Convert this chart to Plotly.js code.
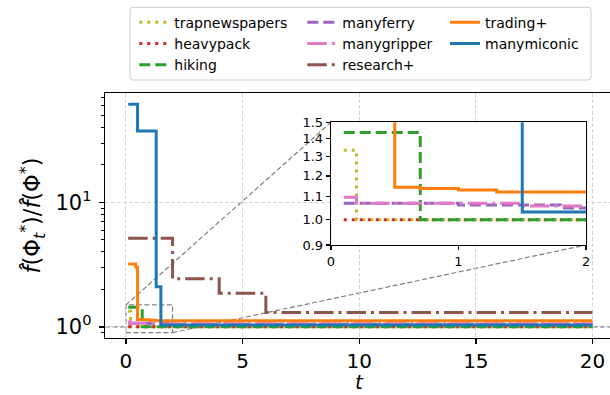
<!DOCTYPE html>
<html><head><meta charset="utf-8">
<script src="https://cdn.plot.ly/plotly-3.0.1.min.js"></script>
<style>html,body{margin:0;padding:0;background:#fff}</style>
</head><body><div id="chart" style="width:610px;height:395px"></div>
<script>
// ---- data ----
const names = ['trapnewspapers','heavypack','hiking','manyferry','manygripper','research+','trading+','manymiconic'];
const tTrapnewspapers = [0.1, 0.2, 20];
const vTrapnewspapers = [1.335, 1.0, 1.0];
const tHeavypack = [0.1, 20];
const vHeavypack = [1.0, 1.0];
const tHiking = [0.1, 0.7, 20];
const vHiking = [1.438, 1.0, 1.0];
const tManyferry = [0.1, 1.0, 1.8, 20];
const vManyferry = [1.071, 1.063, 1.05, 1.05];
const tManygripper = [0.1, 0.2, 1.5, 20];
const vManygripper = [1.098, 1.071, 1.059, 1.059];
const tResearch = [0.1, 2, 4, 6, 20];
const vResearch = [5.14, 2.43, 1.86, 1.303, 1.303];
const tTrading = [0.1, 0.42, 0.5, 0.7, 1.0, 1.3, 20];
const vTrading = [3.2, 3.02, 1.145, 1.139, 1.131, 1.122, 1.122];
const tManymiconic = [0.1, 0.5, 1.3, 1.5, 20];
const vManymiconic = [61.6, 37.5, 2.1, 1.033, 1.033];

const xTickVals = [0, 5, 10, 15, 20];
const yTickVals = [1, 10];
const yTickText = ['10<sup>0</sup>', '10<sup>1</sup>'];
const yMinorVals = [0.9, 2, 3, 4, 5, 6, 7, 8, 9, 20, 30, 40, 50, 60, 70];
const insetXTicks = [0, 1, 2];
const insetYTicks = [0.9, 1.0, 1.1, 1.2, 1.3, 1.4, 1.5];
const insetYText = ['0.9', '1.0', '1.1', '1.2', '1.3', '1.4', '1.5'];
const zoomBox = {t0: 0, t1: 2, v0: 0.9, v1: 1.5};
const xTitle = '<i>t</i>';
const yTitle = '<i>f̂</i>(Φ<sub><i>t</i></sub><sup>*</sup>)/<i>f̂</i>(Φ<sup>*</sup>)';

// ---- styles ----
const FONT = 'DejaVu Sans';
const LW = 3;
const DOT = '3px,5px', DASH = '11px,5px', DASHDOT = '19.5px,5px,3px,5px';
const series = [
  {name: names[0], t: tTrapnewspapers, v: vTrapnewspapers, color: '#bcbd22', dash: DOT, legend: 'legend'},
  {name: names[1], t: tHeavypack, v: vHeavypack, color: '#d62728', dash: DOT, legend: 'legend'},
  {name: names[2], t: tHiking, v: vHiking, color: '#2ca02c', dash: DASH, legend: 'legend'},
  {name: names[3], t: tManyferry, v: vManyferry, color: '#9467bd', dash: DASH, legend: 'legend2'},
  {name: names[4], t: tManygripper, v: vManygripper, color: '#e377c2', dash: DASHDOT, legend: 'legend2'},
  {name: names[5], t: tResearch, v: vResearch, color: '#8c564b', dash: DASHDOT, legend: 'legend2'},
  {name: names[6], t: tTrading, v: vTrading, color: '#ff7f0e', dash: 'solid', legend: 'legend3'},
  {name: names[7], t: tManymiconic, v: vManymiconic, color: '#1f77b4', dash: 'solid', legend: 'legend3'}
];

const traces = [];
series.forEach(s => {
  traces.push({x: s.t, y: s.v, type: 'scatter', mode: 'lines', name: s.name, legend: s.legend,
    line: {color: s.color, width: LW, dash: s.dash, shape: 'hv'}, xaxis: 'x', yaxis: 'y', hoverinfo: 'skip'});
});
series.forEach(s => {
  traces.push({x: s.t, y: s.v, type: 'scatter', mode: 'lines', name: s.name, showlegend: false,
    line: {color: s.color, width: LW, dash: s.dash, shape: 'hv'}, xaxis: 'x2', yaxis: 'y2', hoverinfo: 'skip'});
});

const xr = [-0.895, 20.75];
const yr = [-0.0895, 1.879];
const inX = [0.4475, 0.9525];
const inY = [0.3796, 0.8804];
const px = t => (t - xr[0]) / (xr[1] - xr[0]);
const py = v => (Math.log10(v) - yr[0]) / (yr[1] - yr[0]);

const GRAY = '#808080';
const shapes = [
  // axhline at 1
  {type: 'line', xref: 'paper', yref: 'y', x0: 0, x1: 1, y0: 1, y1: 1, layer: 'below',
   line: {color: GRAY, width: 1.5, dash: '5px,2.5px'}},
  // zoom indicator box
  {type: 'rect', xref: 'paper', yref: 'paper', x0: px(zoomBox.t0), x1: px(zoomBox.t1), y0: py(zoomBox.v0), y1: py(zoomBox.v1),
   layer: 'below', line: {color: GRAY, width: 1.2, dash: '5px,2.5px'}},
  // connectors
  {type: 'line', xref: 'paper', yref: 'paper', x0: px(zoomBox.t0), y0: py(zoomBox.v1), x1: inX[0], y1: inY[1],
   layer: 'below', line: {color: GRAY, width: 1.2, dash: '5px,2.5px'}},
  {type: 'line', xref: 'paper', yref: 'paper', x0: px(zoomBox.t1), y0: py(zoomBox.v0), x1: inX[1], y1: inY[0],
   layer: 'below', line: {color: GRAY, width: 1.2, dash: '5px,2.5px'}}
];
// legend frame (rounded)
(function(){
  const x0 = (130 - 105) / 505, x1 = (591 - 105) / 505;
  const yT = 1 + (93 - 7.3) / 245, yB = 1 + (93 - 80) / 245;
  const rx = 3 / 505, ry = 3 / 245;
  const p = `M${x0+rx},${yT} L${x1-rx},${yT} Q${x1},${yT} ${x1},${yT-ry} L${x1},${yB+ry} Q${x1},${yB} ${x1-rx},${yB} ` +
            `L${x0+rx},${yB} Q${x0},${yB} ${x0},${yB+ry} L${x0},${yT-ry} Q${x0},${yT} ${x0+rx},${yT} Z`;
  shapes.push({type: 'path', xref: 'paper', yref: 'paper', path: p, layer: 'below',
    line: {color: '#cccccc', width: 1}, fillcolor: '#ffffff'});
})();

const legBase = {orientation: 'v', yanchor: 'top', xanchor: 'left', y: 1.352, bgcolor: 'rgba(0,0,0,0)',
  borderwidth: 0, traceorder: 'normal', font: {family: FONT, size: 14, color: '#000'}};

const layout = {
  width: 610, height: 395,
  margin: {l: 105, r: 0, t: 93, b: 57, pad: 0},
  paper_bgcolor: '#fff', plot_bgcolor: '#fff',
  font: {family: FONT, color: '#000'},
  showlegend: true,
  legend: Object.assign({}, legBase, {x: 0.058}),
  legend2: Object.assign({}, legBase, {x: 0.3907}),
  legend3: Object.assign({}, legBase, {x: 0.6733}),
  xaxis: {domain: [0, 1], range: xr, tickmode: 'array', tickvals: xTickVals, ticks: 'outside', ticklen: 5, tickwidth: 1.3,
    tickcolor: '#000', showline: true, linecolor: '#000', linewidth: 1.3, mirror: true, zeroline: false,
    showgrid: true, gridcolor: '#d6d6d6', griddash: '4px,2px', gridwidth: 1,
    tickfont: {family: FONT, size: 20, color: '#000'}, ticklabelstandoff: 0},
  yaxis: {domain: [0, 1], type: 'log', range: yr, tickmode: 'array', tickvals: yTickVals, ticktext: yTickText,
    ticks: 'outside', ticklen: 5, tickwidth: 1.3, tickcolor: '#000', showline: true, linecolor: '#000', linewidth: 1.3,
    mirror: false, zeroline: false, showgrid: true, gridcolor: '#d6d6d6', griddash: '4px,2px', gridwidth: 1,
    minor: {tickmode: 'array', tickvals: yMinorVals, ticks: 'outside', ticklen: 3, tickwidth: 1, tickcolor: '#000', showgrid: false},
    tickfont: {family: FONT, size: 21, color: '#000'}, ticklabelstandoff: 3,
    title: {text: yTitle, font: {family: FONT, size: 22.5, color: '#000'}, standoff: 8}},
  xaxis2: {domain: inX, anchor: 'y2', range: [0, 2], tickmode: 'array', tickvals: insetXTicks, ticks: 'outside', ticklen: 4,
    tickwidth: 1.2, tickcolor: '#000', showline: true, linecolor: '#000', linewidth: 1.3, mirror: true, zeroline: false,
    showgrid: false, tickfont: {family: FONT, size: 13, color: '#000'}},
  yaxis2: {domain: inY, anchor: 'x2', type: 'log', range: [Math.log10(insetYTicks[0]), Math.log10(insetYTicks[insetYTicks.length-1])],
    tickmode: 'array', tickvals: insetYTicks, ticktext: insetYText, ticks: 'outside', ticklen: 4, tickwidth: 1.2, tickcolor: '#000',
    showline: true, linecolor: '#000', linewidth: 1.3, mirror: true, zeroline: false, showgrid: false,
    tickfont: {family: FONT, size: 13, color: '#000'}},
  annotations: [
    {text: xTitle, xref: 'paper', yref: 'paper', x: px(10), y: -57 / 245, xanchor: 'center', yanchor: 'bottom',
     borderpad: 0, showarrow: false, font: {family: FONT, size: 20, color: '#000'}}
  ],
  shapes: shapes
};

Plotly.newPlot('chart', traces, layout, {staticPlot: true, displayModeBar: false});
</script>
</body></html>
